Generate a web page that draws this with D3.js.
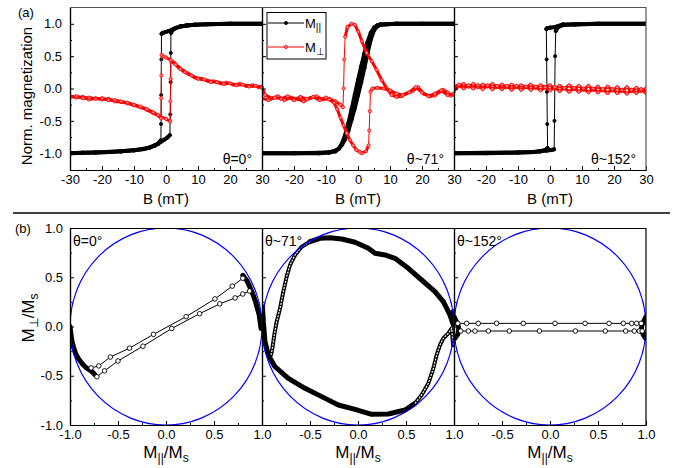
<!DOCTYPE html>
<html>
<head>
<meta charset="utf-8">
<script src="https://cdn.jsdelivr.net/npm/d3@7"></script>
<style>
body { margin: 0; background: #fff; }
svg { font-family: "Liberation Sans", Arial, sans-serif; }
</style>
</head>
<body>
<svg id="fig" width="674" height="468"></svg>
<script>
// ---- panel (a): M vs B, [B (mT), M/Ms] ----
var fieldTicks = [-30, -20, -10, 0, 10, 20, 30];
var fieldMinor = [-25, -15, -5, 5, 15, 25];
var magTicks = [-1, -0.5, 0, 0.5, 1];
var magMinor = [-0.75, -0.25, 0.25, 0.75];
var angleLabels = ["\u03b8=0\u00b0", "\u03b8~71\u00b0", "\u03b8~152\u00b0"];

var p1ParUp = [[-30,-1],[-26,-0.995],[-22,-0.99],[-18,-0.98],[-14,-0.97],[-10,-0.955],[-7,-0.935],[-5,-0.91],[-3.5,-0.88],[-2.5,-0.855],[-1.5,-0.82],[-0.5,-0.79],[0.5,-0.755],[1.2,-0.72],[1.35,-0.4],[1.45,0.1],[1.5,0.55],[1.55,0.86],[2.2,0.91],[3,0.935],[4.5,0.96],[6.5,0.975],[9,0.985],[13,0.995],[20,1],[30,1]];
var p1ParDown = [[30,1],[20,1],[13,0.995],[9,0.985],[6.5,0.975],[4.5,0.96],[3,0.935],[2,0.91],[1,0.89],[0,0.875],[-1,0.86],[-1.4,0.845],[-1.45,0.45],[-1.5,-0.1],[-1.55,-0.55],[-1.6,-0.8],[-2.5,-0.855],[-3.5,-0.88],[-5,-0.91],[-7,-0.935],[-10,-0.955],[-14,-0.97],[-18,-0.98],[-22,-0.99],[-26,-0.995],[-30,-1]];
var p1PerUp = [[-30,-0.12],[-28,-0.14],[-26,-0.13],[-24,-0.17],[-22,-0.15],[-20,-0.17],[-18,-0.16],[-16,-0.2],[-14,-0.21],[-12,-0.23],[-10,-0.26],[-8,-0.29],[-6,-0.33],[-4,-0.38],[-2,-0.43],[0,-0.47],[1.3,-0.51],[1.35,-0.2],[1.45,0.15],[1.55,0.42],[2.5,0.4],[4,0.33],[5.5,0.27],[7,0.23],[9,0.17],[11,0.15],[13,0.12],[15,0.11],[17,0.08],[19,0.09],[21,0.06],[23,0.07],[25,0.04],[27,0.05],[29,0.02],[30,0.03]];
var p1PerDown = [[30,0.01],[28,0.04],[26,0.03],[24,0.06],[22,0.05],[20,0.08],[18,0.07],[16,0.1],[14,0.1],[12,0.14],[10,0.15],[8,0.2],[6,0.25],[4.5,0.3],[3,0.37],[1.5,0.44],[0,0.48],[-1,0.5],[-1.4,0.52],[-1.45,0.2],[-1.5,-0.15],[-1.55,-0.46],[-2.5,-0.41],[-4,-0.37],[-6,-0.32],[-8,-0.28],[-10,-0.25],[-12,-0.22],[-14,-0.2],[-16,-0.18],[-18,-0.18],[-20,-0.15],[-22,-0.16],[-24,-0.14],[-26,-0.15],[-28,-0.12],[-30,-0.13]];

var p2ParUp = [[-30,-1],[-20,-1],[-12,-0.995],[-9,-0.985],[-7,-0.96],[-6,-0.93],[-5,-0.87],[-4,-0.78],[-3,-0.65],[-2,-0.48],[-1,-0.3],[0,-0.1],[1,0.1],[2,0.32],[3,0.55],[4,0.76],[5,0.9],[6,0.96],[7,0.985],[9,0.995],[12,1],[20,1],[30,1]];
var p2ParDown = [[30,1],[20,1],[12,1],[9,0.995],[7,0.99],[6,0.975],[5,0.94],[4,0.86],[3,0.72],[2,0.54],[1,0.34],[0,0.13],[-1,-0.1],[-2,-0.32],[-3,-0.54],[-4,-0.72],[-5,-0.85],[-6,-0.93],[-7,-0.97],[-9,-0.99],[-12,-1],[-20,-1],[-30,-1]];
var p2PerUp = [[-30,0.02],[-29,-0.1],[-27,-0.15],[-25,-0.12],[-23,-0.18],[-21,-0.14],[-19,-0.16],[-17,-0.2],[-15,-0.15],[-13,-0.12],[-11,-0.17],[-9,-0.16],[-7,-0.2],[-5.5,-0.25],[-4.7,-0.29],[-4.5,0.0],[-4.3,0.45],[-4.0,0.8],[-3.3,0.95],[-2,1.0],[-1,0.985],[0.1,0.88],[1.2,0.73],[2.7,0.55],[4.3,0.42],[5.8,0.29],[7.4,0.13],[9,0.0],[10.5,-0.1],[12,-0.13],[13.6,-0.12],[15,-0.08],[17,-0.04],[18.8,0.02],[20.5,-0.08],[22.5,-0.12],[24,-0.11],[25.5,-0.05],[26.6,-0.02],[28,-0.06],[29,-0.11],[30,-0.1]];
var p2PerDown = [[30,-0.08],[28,-0.1],[26,-0.03],[24,-0.08],[22,-0.12],[20,-0.06],[18,0.02],[16,-0.06],[14,-0.1],[12,-0.08],[10,-0.03],[8,0.0],[6,0.01],[4.5,0.0],[3.9,-0.05],[3.7,-0.35],[3.5,-0.65],[3.3,-0.88],[2.5,-0.97],[1.2,-1.0],[0.5,-0.98],[-0.5,-0.95],[-1.5,-0.88],[-2.5,-0.8],[-3.5,-0.69],[-4.5,-0.57],[-5.5,-0.45],[-6.5,-0.32],[-7.5,-0.22],[-9,-0.17],[-10,-0.14],[-12,-0.18],[-14,-0.13],[-16,-0.16],[-18,-0.13],[-20,-0.18],[-22,-0.12],[-24,-0.16],[-26,-0.14],[-28,-0.18],[-30,-0.15]];

var p3ParUp = [[-30,-1],[-20,-0.995],[-10,-0.99],[-5,-0.98],[-3,-0.97],[-1,-0.96],[0.5,-0.95],[1.3,-0.94],[1.4,-0.5],[1.5,0.0],[1.6,0.5],[1.8,0.89],[2.5,0.95],[4,0.98],[8,0.99],[15,1],[30,1]];
var p3ParDown = [[30,1],[15,1],[8,0.995],[4,0.99],[2,0.955],[0,0.94],[-1,0.93],[-1.15,0.92],[-1.05,0.45],[-0.95,-0.05],[-0.85,-0.55],[-0.75,-0.92],[-1.5,-0.95],[-3,-0.97],[-5,-0.98],[-10,-0.99],[-20,-1],[-30,-1]];
var p3PerUp = [[-30,-0.04],[-28.5,0.04],[-27,0.07],[-25.5,0.03],[-24,0.07],[-22.5,0.02],[-21,0.06],[-19.5,0.03],[-18,0.07],[-16.5,0.02],[-15,0.06],[-13.5,0.02],[-12,0.06],[-10.5,0.02],[-9,0.05],[-7.5,0.02],[-6,0.06],[-4.5,0.01],[-3,0.05],[-1.5,0.02],[0,0.05],[1.5,0.0],[3,0.04],[4.5,0.0],[6,0.05],[7.5,-0.01],[9,0.04],[10.5,-0.02],[12,0.04],[13.5,-0.02],[15,0.03],[16.5,-0.03],[18,0.03],[19.5,-0.03],[21,0.02],[22.5,-0.04],[24,0.02],[25.5,-0.04],[27,0.01],[28.5,-0.04],[30,0.0]];
var p3PerDown = [[30,-0.07],[28.5,-0.01],[27,-0.07],[25.5,-0.02],[24,-0.08],[22.5,-0.02],[21,-0.07],[19.5,-0.01],[18,-0.07],[16.5,-0.01],[15,-0.06],[13.5,0.0],[12,-0.06],[10.5,0.0],[9,-0.05],[7.5,0.01],[6,-0.05],[4.5,0.01],[3,-0.04],[1.5,0.02],[0,-0.03],[-1.5,0.02],[-3,-0.03],[-4.5,0.03],[-6,-0.02],[-7.5,0.03],[-9,-0.02],[-10.5,0.04],[-12,-0.02],[-13.5,0.04],[-15,-0.01],[-16.5,0.04],[-18,-0.01],[-19.5,0.05],[-21,-0.01],[-22.5,0.05],[-24,0.0],[-25.5,0.05],[-27,0.0],[-28.5,0.06],[-30,0.02]];

// ---- panel (b): M_perp vs M_par ----
var normTicks = [-1, -0.5, 0, 0.5, 1];
var normMinor = [-0.75, -0.25, 0.25, 0.75];

var b1LineA = [[-0.78,-0.42],[-0.7,-0.4],[-0.58,-0.31],[-0.38,-0.22],[-0.13,-0.08],[0.21,0.1],[0.51,0.28],[0.69,0.41],[0.8,0.49]];
var b1LineB = [[-0.72,-0.51],[-0.64,-0.45],[-0.5,-0.35],[-0.24,-0.2],[0.06,-0.02],[0.35,0.13],[0.56,0.23],[0.72,0.29],[0.8,0.33],[0.87,0.36]];
var b1Left = [[-1,0.0],[-0.99,-0.08],[-0.98,-0.15],[-0.96,-0.22],[-0.94,-0.28],[-0.91,-0.33],[-0.87,-0.38],[-0.83,-0.42],[-0.78,-0.45],[-0.74,-0.49]];
var b1Right = [[0.8,0.52],[0.84,0.47],[0.87,0.41],[0.9,0.34],[0.93,0.26],[0.95,0.19],[0.97,0.12],[0.98,0.05],[0.99,-0.02]];

var b2TopArc = [[0.99,0.15],[0.993,0.015],[0.958,0.117],[0.889,0.252],[0.802,0.354],[0.663,0.472],[0.524,0.591],[0.385,0.692],[0.281,0.726],[0.177,0.743],[0.108,0.794],[-0.031,0.855],[-0.17,0.888],[-0.292,0.902],[-0.396,0.895],[-0.5,0.861]];
var b2LeftFall = [[-0.5,0.861],[-0.587,0.81],[-0.656,0.726],[-0.708,0.624],[-0.743,0.506],[-0.778,0.354],[-0.812,0.184],[-0.847,0.049],[-0.872,-0.086],[-0.892,-0.222],[-0.906,-0.289]];
var b2BottomArc = [[-0.995,0.2],[-0.986,0.049],[-0.969,-0.154],[-0.934,-0.289],[-0.865,-0.408],[-0.726,-0.526],[-0.552,-0.628],[-0.378,-0.712],[-0.205,-0.797],[-0.031,-0.841],[0.142,-0.892],[0.316,-0.888],[0.49,-0.848],[0.594,-0.78]];
var b2RightRise = [[0.594,-0.78],[0.663,-0.695],[0.733,-0.577],[0.785,-0.425],[0.819,-0.289],[0.854,-0.188],[0.889,-0.12],[0.941,-0.069],[0.976,-0.019],[0.99,-0.19]];

var b3LineA = [[-0.96,0.032],[-0.868,0.032],[-0.747,0.032],[-0.556,0.032],[-0.278,0.032],[0.052,0.032],[0.365,0.032],[0.615,0.032],[0.764,0.032],[0.851,0.032],[0.903,0.032],[0.95,0.032]];
var b3LineB = [[-0.93,-0.046],[-0.851,-0.046],[-0.781,-0.046],[-0.642,-0.046],[-0.424,-0.046],[-0.111,-0.046],[0.264,-0.046],[0.576,-0.046],[0.788,-0.046],[0.878,-0.046],[0.931,-0.046],[0.96,-0.046]];
var b3Left = [[-1,0.1],[-0.98,0.06],[-0.96,0.02],[-0.95,-0.03],[-0.96,-0.08],[-0.99,-0.12]];
var b3Right = [[1,0.1],[0.98,0.06],[0.96,0.02],[0.95,-0.03],[0.97,-0.08],[0.995,-0.12]];

var topData = [
  [p1ParUp, p1ParDown, p1PerUp, p1PerDown],
  [p2ParUp, p2ParDown, p2PerUp, p2PerDown],
  [p3ParUp, p3ParDown, p3PerUp, p3PerDown]
];

var svg = d3.select("#fig");
var W = 192, X0 = [70, 262, 454];
var yTop = d3.scaleLinear().domain([-1.26, 1.26]).range([170, 7]);
var yBot = d3.scaleLinear().domain([-1, 1]).range([425, 228]);
var fmt1 = function (d) { return d.toFixed(1); };

function styleAxis(g, size) {
  g.attr("font-family", null).attr("font-size", null);
  g.selectAll("text").attr("font-size", size).attr("fill", "#000");
  g.selectAll("line").attr("stroke-width", 1);
  g.select(".domain").attr("stroke-width", 1.2);
}

function trace(g, pts, x, y, color, thick, dotFill) {
  for (var i = 0; i < pts.length - 1; i++) {
    var ax = x(pts[i][0]), ay = y(pts[i][1]), bx = x(pts[i + 1][0]), by = y(pts[i + 1][1]);
    var steep = Math.abs(by - ay) > 15 * Math.max(Math.abs(bx - ax), 0.3);
    g.append("line").attr("x1", ax).attr("y1", ay).attr("x2", bx).attr("y2", by)
      .attr("stroke", color).attr("stroke-width", steep ? 1 : thick).attr("stroke-linecap", "round");
  }
  g.selectAll(null).data(pts).enter().append("circle")
    .attr("cx", function (d) { return x(d[0]); })
    .attr("cy", function (d) { return y(d[1]); })
    .attr("r", 1.6).attr("fill", dotFill).attr("stroke", color).attr("stroke-width", 0.8);
}

var line = function (x, y) {
  return d3.line().x(function (d) { return x(d[0]); }).y(function (d) { return y(d[1]); });
};

// ---------- top row ----------
topData.forEach(function (set, i) {
  var x = d3.scaleLinear().domain([-30, 30]).range([X0[i], X0[i] + W]);
  svg.append("clipPath").attr("id", "ct" + i).append("rect")
    .attr("x", X0[i]).attr("y", 7).attr("width", W).attr("height", 163);
  var g = svg.append("g").attr("clip-path", "url(#ct" + i + ")");
  trace(g, set[0], x, yTop, "#000", 4, "#000");
  trace(g, set[1], x, yTop, "#000", 4, "#000");
  trace(g, set[2], x, yTop, "#f00", 3, "#ff9090");
  trace(g, set[3], x, yTop, "#f00", 3, "#ff9090");

  var ax = svg.append("g").attr("transform", "translate(0,170)")
    .call(d3.axisBottom(x).tickValues(fieldTicks).tickSize(-4).tickSizeOuter(0).tickPadding(5)
      .tickFormat(function (d) { return (i > 0 && d === -30) ? "" : String(d); }));
  styleAxis(ax, 13);
  var axm = svg.append("g").attr("transform", "translate(0,170)")
    .call(d3.axisBottom(x).tickValues(fieldMinor).tickSize(-2).tickSizeOuter(0).tickFormat(""));
  styleAxis(axm, 13);
  var ay = svg.append("g").attr("transform", "translate(" + X0[i] + ",0)")
    .call(d3.axisLeft(yTop).tickValues(magTicks).tickSize(-4).tickSizeOuter(0).tickPadding(8)
      .tickFormat(function (d) { return i === 0 ? fmt1(d) : ""; }));
  styleAxis(ay, 13);
  var aym = svg.append("g").attr("transform", "translate(" + X0[i] + ",0)")
    .call(d3.axisLeft(yTop).tickValues(magMinor).tickSize(-2).tickSizeOuter(0).tickFormat(""));
  styleAxis(aym, 13);

  svg.append("text").attr("x", X0[i] + W / 2).attr("y", 204).attr("text-anchor", "middle")
    .attr("font-size", 15).text("B (mT)");
  svg.append("text").attr("x", X0[i] + W - 10).attr("y", 164).attr("text-anchor", "end")
    .attr("font-size", 14).text(angleLabels[i]);
});
svg.append("line").attr("x1", 70).attr("x2", 646).attr("y1", 7.5).attr("y2", 7.5).attr("stroke", "#555").attr("stroke-width", 1.2);
svg.append("line").attr("x1", 646).attr("x2", 646).attr("y1", 7).attr("y2", 170).attr("stroke", "#555").attr("stroke-width", 1.2);

// legend
var lg = svg.append("g");
lg.append("rect").attr("x", 267).attr("y", 12.5).attr("width", 59).attr("height", 46.5)
  .attr("fill", "#fff").attr("stroke", "#000").attr("stroke-width", 1);
[["#000", "#000", "||", 23], ["#f00", "#ff9090", "\u22a5", 47]].forEach(function (e) {
  lg.append("line").attr("x1", 268).attr("x2", 304).attr("y1", e[3]).attr("y2", e[3]).attr("stroke", e[0]).attr("stroke-width", 1);
  lg.append("circle").attr("cx", 286).attr("cy", e[3]).attr("r", 1.6).attr("fill", e[1]).attr("stroke", e[0]).attr("stroke-width", 0.8);
  var t = lg.append("text").attr("x", 305).attr("y", e[3] + 4.5).attr("font-size", 13);
  t.append("tspan").text("M");
  t.append("tspan").attr("font-size", 10).attr("dy", 3).text(e[2]);
});

svg.append("text").attr("transform", "translate(32,96) rotate(-90)").attr("text-anchor", "middle")
  .attr("font-size", 15).text("Norm. magnetization");
svg.append("text").attr("x", 18).attr("y", 17).attr("font-size", 13).text("(a)");

svg.append("line").attr("x1", 13).attr("x2", 670).attr("y1", 213).attr("y2", 213).attr("stroke", "#000").attr("stroke-width", 1.5);

// ---------- bottom row ----------
function dense(g, pts, x, y, w) {
  g.append("path").datum(pts).attr("d", line(x, y)).attr("fill", "none").attr("stroke", "#000")
    .attr("stroke-width", w).attr("stroke-linejoin", "round").attr("stroke-linecap", "round");
}
function tube(g, pts, x, y) {
  dense(g, pts, x, y, 4);
  g.append("path").datum(pts).attr("d", line(x, y)).attr("fill", "none").attr("stroke", "#fff")
    .attr("stroke-width", 1.2).attr("stroke-dasharray", "2,1.2");
}
function circles(g, pts, x, y) {
  g.append("path").datum(pts).attr("d", line(x, y)).attr("fill", "none").attr("stroke", "#000").attr("stroke-width", 1);
  g.selectAll(null).data(pts).enter().append("circle")
    .attr("cx", function (d) { return x(d[0]); }).attr("cy", function (d) { return y(d[1]); })
    .attr("r", 2.3).attr("fill", "#fff").attr("stroke", "#000").attr("stroke-width", 0.9);
}

[0, 1, 2].forEach(function (i) {
  var x = d3.scaleLinear().domain([-1, 1]).range([X0[i], X0[i] + W]);
  svg.append("clipPath").attr("id", "cb" + i).append("rect")
    .attr("x", X0[i]).attr("y", 228).attr("width", W).attr("height", 197);
  var g = svg.append("g").attr("clip-path", "url(#cb" + i + ")");
  if (i === 0) {
    dense(g, b1Left, x, yBot, 5);
    dense(g, b1Right, x, yBot, 5);
    circles(g, b1LineA, x, yBot);
    circles(g, b1LineB, x, yBot);
  } else if (i === 1) {
    dense(g, b2TopArc, x, yBot, 5);
    dense(g, b2BottomArc, x, yBot, 5);
    tube(g, b2LeftFall, x, yBot);
    tube(g, b2RightRise, x, yBot);
  } else {
    dense(g, b3Left, x, yBot, 5);
    dense(g, b3Right, x, yBot, 5);
    circles(g, b3LineA, x, yBot);
    circles(g, b3LineB, x, yBot);
  }
  g.append("ellipse").attr("cx", x(0)).attr("cy", yBot(0))
    .attr("rx", x(1) - x(0)).attr("ry", yBot(-1) - yBot(0))
    .attr("fill", "none").attr("stroke", "#0000ff").attr("stroke-width", 1.2);

  var ax = svg.append("g").attr("transform", "translate(0,425)")
    .call(d3.axisBottom(x).tickValues(normTicks).tickSize(-4).tickSizeOuter(0).tickPadding(5)
      .tickFormat(function (d) { return (i > 0 && d === -1) ? "" : fmt1(d); }));
  styleAxis(ax, 13);
  var axm = svg.append("g").attr("transform", "translate(0,425)")
    .call(d3.axisBottom(x).tickValues(normMinor).tickSize(-2).tickSizeOuter(0).tickFormat(""));
  styleAxis(axm, 13);
  var ay = svg.append("g").attr("transform", "translate(" + X0[i] + ",0)")
    .call(d3.axisLeft(yBot).tickValues(normTicks).tickSize(-4).tickSizeOuter(0).tickPadding(7)
      .tickFormat(function (d) { return i === 0 ? fmt1(d) : ""; }));
  styleAxis(ay, 13);
  var aym = svg.append("g").attr("transform", "translate(" + X0[i] + ",0)")
    .call(d3.axisLeft(yBot).tickValues(normMinor).tickSize(-2).tickSizeOuter(0).tickFormat(""));
  styleAxis(aym, 13);

  var t = svg.append("text").attr("x", X0[i] + W / 2).attr("y", 458).attr("text-anchor", "middle").attr("font-size", 17);
  t.append("tspan").text("M");
  t.append("tspan").attr("font-size", 12).attr("dy", 4).text("||");
  t.append("tspan").attr("dy", -4).text("/M");
  t.append("tspan").attr("font-size", 12).attr("dy", 4).text("s");

  svg.append("text").attr("x", X0[i] + 3).attr("y", 246).attr("font-size", 14).text(angleLabels[i]);
});
svg.append("line").attr("x1", 70).attr("x2", 646).attr("y1", 228.5).attr("y2", 228.5).attr("stroke", "#000").attr("stroke-width", 1.2);
svg.append("line").attr("x1", 646).attr("x2", 646).attr("y1", 228).attr("y2", 425).attr("stroke", "#000").attr("stroke-width", 1.2);

var yl = svg.append("text").attr("transform", "translate(34,318) rotate(-90)").attr("text-anchor", "middle").attr("font-size", 17);
yl.append("tspan").text("M");
yl.append("tspan").attr("font-size", 12).attr("dy", 4).text("\u22a5");
yl.append("tspan").attr("dy", -4).text("/M");
yl.append("tspan").attr("font-size", 12).attr("dy", 4).text("s");
svg.append("text").attr("x", 15).attr("y", 233).attr("font-size", 13).text("(b)");
</script>
</body>
</html>
